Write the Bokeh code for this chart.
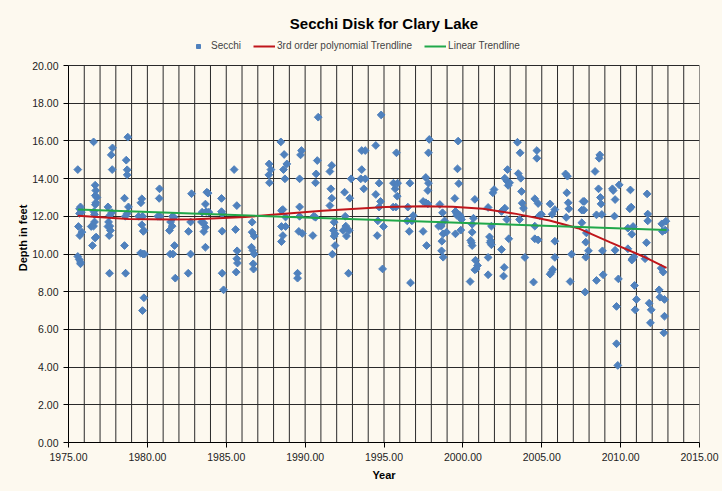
from bokeh.plotting import figure
from bokeh.models import FixedTicker, NumeralTickFormatter, Legend, LegendItem, ColumnDataSource, Range1d
from bokeh.embed import file_html
from bokeh.resources import INLINE

# ---- data ----
secchi_year = [
    1975.59, 1976.59, 1978.76, 1977.79, 1977.71, 1977.77, 1978.66, 1978.72, 1978.72, 1976.69,
    1976.73, 1976.80, 1976.70, 1976.73, 1976.70, 1975.76, 1975.70, 1975.82, 1975.70, 1976.61,
    1976.65, 1977.50, 1977.75, 1977.62, 1978.55, 1978.80, 1978.72, 1978.60, 1979.65, 1979.59,
    1979.45, 1979.70, 1979.65, 1979.78, 1979.74, 1980.77, 1980.75, 1980.67, 1980.80, 1981.60,
    1981.68, 1981.47, 1981.57, 1981.40, 1982.80, 1982.74, 1982.61, 1975.63, 1975.85, 1975.72,
    1976.44, 1976.59, 1976.65, 1976.75, 1976.69, 1976.52, 1977.54, 1977.62, 1977.66, 1977.58,
    1977.50, 1975.59, 1975.68, 1975.76, 1975.76, 1978.55, 1977.60, 1978.62, 1979.57, 1979.72,
    1979.82, 1979.78, 1979.69, 1981.45, 1981.62, 1981.72, 1981.77, 1982.74, 1982.59,
    1990.83, 1988.46, 1988.67, 1989.77, 1989.71, 1988.84, 1987.72, 1987.83, 1987.70, 1987.74,
    1988.63, 1988.72, 1989.65, 1990.77, 1990.70, 1990.66, 1985.50, 1983.77, 1983.85, 1983.68,
    1984.70, 1985.67, 1983.47, 1983.73, 1983.90, 1984.70, 1984.74, 1983.43, 1983.58, 1983.68,
    1983.58, 1983.68, 1984.74, 1985.59, 1985.69, 1985.67, 1985.71, 1985.63, 1984.74, 1984.83,
    1986.64, 1986.64, 1986.77, 1986.60, 1986.69, 1986.77, 1986.71, 1986.73, 1988.50, 1988.59,
    1988.76, 1988.50, 1988.76, 1988.59, 1988.50, 1989.65, 1989.65, 1989.60, 1989.82, 1989.52,
    1989.52, 1990.55, 1990.66, 1990.49,
    1994.82, 1997.87, 1997.82, 1994.48, 1993.59, 1993.81, 1995.79, 1991.69, 1991.57, 1993.59,
    1993.53, 1993.81, 1992.92, 1994.69, 1995.60, 1995.86, 1996.64, 1997.65, 1997.82, 1997.78,
    1991.63, 1991.69, 1991.57, 1992.50, 1992.83, 1993.72, 1994.48, 1995.71, 1995.84, 1994.78,
    1994.69, 1995.58, 1995.75, 1996.51, 1997.48, 1997.65, 1997.78, 1998.54, 1998.71, 1992.54,
    1991.84, 1991.80, 1991.90, 1991.84, 1991.90, 1991.73, 1992.41, 1992.58, 1992.79, 1992.62,
    1992.75, 1994.61, 1994.97, 1994.57, 1994.91, 1996.47, 1996.77, 1996.85, 1996.60, 1996.68,
    1997.48, 1997.70, 1998.46, 1998.63, 1998.84, 1998.96, 1998.75, 1998.67, 1998.65, 1998.75,
    1999.70, 1999.66, 1999.74, 1999.49, 1999.53, 1999.62, 1999.78, 1999.87, 1999.91, 1999.62,
    1999.53, 1999.87, 2000.76, 2000.67, 2000.59, 2000.59, 2000.50, 2000.59, 2000.55, 2000.80,
    2000.93, 2000.76, 2000.84, 2000.46, 2001.60, 2001.81, 2001.69, 2001.77, 2001.81, 2001.73,
    2001.60, 2001.60, 2001.90, 2001.98, 2002.66, 2002.79, 2002.87, 2002.96, 2002.83, 2002.45,
    2002.66, 2002.79, 2002.91, 2002.45, 2002.62, 2002.58, 2003.46, 2003.63, 2003.51, 2003.67,
    2003.72, 2003.76, 2003.84, 2003.59, 2003.93, 2004.69, 2004.69, 2004.56, 2004.77, 2004.86,
    2004.98, 2004.56, 2004.56, 2004.77, 2004.48, 2005.53, 2005.83, 2005.66, 2005.83, 2005.83,
    2005.70, 2005.62, 2005.53, 2006.51, 2006.63, 2006.59, 2006.68, 2006.72, 2006.55, 2006.89,
    2006.80,
    2008.68, 2008.64, 2008.38, 2008.60, 2008.72, 2008.76, 2007.62, 2007.70, 2007.54, 2007.67,
    2008.47, 2008.81, 2007.54, 2007.83, 2007.79, 2007.96, 2007.79, 2008.85, 2008.47, 2008.89,
    2007.75, 2009.48, 2009.53, 2009.91, 2009.65, 2009.61, 2009.65, 2009.86, 2009.74, 2009.74,
    2009.82, 2010.62, 2010.58, 2010.67, 2010.46, 2010.79, 2010.71, 2010.46, 2010.75, 2010.84,
    2010.71, 2010.88, 2011.00, 2010.92, 2011.68, 2011.72, 2011.72, 2011.64, 2011.55, 2011.81,
    2011.94, 2011.89, 2012.61, 2012.87, 2012.65, 2012.82, 2012.57, 2012.70, 2012.44, 2012.49,
    2012.78, 2012.78, 2012.74,
]
secchi_depth = [
    14.48, 15.95, 16.20, 15.63, 15.26, 14.48, 14.98, 14.47, 14.20, 13.65,
    13.37, 13.00, 13.10, 12.72, 12.62, 12.50, 12.40, 12.22, 12.15, 12.25,
    12.10, 12.50, 12.20, 12.05, 12.96, 12.50, 12.15, 12.00, 12.93, 12.72,
    12.00, 12.00, 11.55, 11.25, 11.20, 13.46, 12.95, 12.00, 12.00, 12.00,
    11.95, 11.70, 11.48, 11.25, 13.20, 11.70, 11.20, 11.46, 11.16, 10.98,
    11.46, 11.48, 11.70, 10.90, 10.85, 10.45, 11.70, 11.48, 11.25, 10.98,
    11.46, 9.87, 9.71, 9.57, 9.48, 10.45, 8.98, 8.98, 10.05, 10.00,
    10.00, 7.68, 7.00, 10.00, 10.00, 10.45, 8.72, 10.00, 8.98,
    17.26, 15.95, 15.28, 15.49, 15.26, 14.78, 14.78, 14.48, 14.20, 13.78,
    14.48, 13.99, 13.99, 14.96, 14.25, 13.78, 14.48, 13.28, 13.23, 12.65,
    12.95, 12.57, 12.22, 12.25, 12.22, 12.25, 12.13, 11.70, 11.64, 11.42,
    11.19, 10.36, 11.21, 11.30, 10.17, 9.75, 9.52, 9.04, 8.98, 8.10,
    11.69, 11.16, 10.95, 10.36, 10.19, 10.00, 9.48, 9.20, 12.30, 12.36,
    11.96, 11.46, 11.46, 10.98, 10.66, 12.50, 12.00, 11.20, 11.09, 8.98,
    8.72, 12.00, 11.95, 10.98,
    17.38, 16.08, 15.37, 15.76, 15.49, 15.49, 15.37, 14.70, 14.38, 14.48,
    13.99, 13.99, 13.99, 13.76, 13.76, 13.76, 13.76, 14.06, 13.76, 13.37,
    13.46, 12.96, 12.57, 13.28, 12.96, 13.46, 13.16, 13.46, 13.07, 12.79,
    12.49, 12.49, 12.49, 12.49, 12.79, 12.72, 12.66, 12.63, 12.19, 12.00,
    11.69, 11.25, 11.07, 10.95, 10.45, 9.99, 11.25, 11.48, 11.25, 10.95,
    8.98, 11.76, 11.46, 10.98, 9.21, 11.76, 11.76, 12.04, 11.20, 8.47,
    11.20, 10.45, 11.48, 11.48, 11.76, 11.16, 11.07, 10.68, 10.17, 9.83,
    15.99, 14.52, 13.74, 12.95, 12.26, 12.15, 12.08, 11.97, 11.83, 12.05,
    11.07, 11.27, 12.90, 11.90, 11.58, 11.16, 10.72, 10.45, 10.60, 9.67,
    9.39, 9.16, 9.21, 8.54, 12.47, 11.48, 10.91, 10.70, 10.49, 10.61,
    9.82, 8.90, 13.25, 13.42, 14.02, 13.88, 13.64, 13.78, 14.48, 12.26,
    12.43, 11.83, 10.81, 10.24, 9.29, 8.83, 15.93, 15.37, 14.27, 14.02,
    13.32, 12.70, 12.43, 11.83, 9.82, 15.49, 15.08, 12.93, 12.68, 12.04,
    12.11, 11.48, 10.81, 10.75, 8.51, 12.66, 12.36, 12.11, 10.68, 9.82,
    9.18, 9.04, 8.93, 14.25, 14.13, 13.25, 12.72, 12.40, 11.94, 9.99,
    8.54,
    15.26, 15.08, 14.38, 13.46, 13.00, 12.66, 12.79, 12.79, 12.33, 12.33,
    12.08, 12.10, 11.66, 11.12, 10.63, 10.17, 9.83, 10.17, 8.60, 8.90,
    7.98, 13.46, 13.37, 13.67, 12.89, 12.01, 10.20, 8.68, 7.22, 5.24,
    4.09, 13.40, 12.40, 12.49, 11.37, 11.46, 11.05, 10.28, 9.75, 9.85,
    9.68, 8.33, 7.59, 7.04, 13.19, 12.12, 11.76, 10.60, 9.75, 7.39,
    7.04, 6.35, 11.60, 11.74, 11.20, 11.27, 9.25, 9.04, 8.10, 7.71,
    7.59, 6.70, 5.82,
]

poly_year = [1975.59, 1978.8, 1981.5, 1983.05, 1986.2, 1987.9, 1991.1, 1995.1, 1997.44,
             1999.35, 2001.26, 2003.38, 2005.49, 2007.3, 2009.31, 2011.43, 2012.91]
poly_depth = [12.03, 11.86, 11.83, 11.85, 11.96, 12.08, 12.30, 12.49, 12.54,
              12.51, 12.40, 12.13, 11.78, 11.37, 10.63, 9.87, 9.27]

linear_year = [1975.59, 2012.91]
linear_depth = [12.36, 11.28]

x_ticks = [1975, 1980, 1985, 1990, 1995, 2000, 2005, 2010, 2015]
y_ticks = [0, 2, 4, 6, 8, 10, 12, 14, 16, 18, 20]
year_grid = list(range(1975, 2016))
Y_MAX = 20

BG = "#FDF9EF"
FONT = "Liberation Sans"
GRID = "#2a2a2a"

# frame extends a little above 20 so the legend row sits inside it
p = figure(width=722, height=491, output_backend="svg", toolbar_location=None,
           x_range=Range1d(1975, 2015), y_range=Range1d(0, 21.7),
           min_border_left=68, min_border_right=23, min_border_top=33, min_border_bottom=49,
           background_fill_color=BG, border_fill_color=BG,
           title="Secchi Disk for Clary Lake")

p.title.align = "center"
p.title.offset = -20
p.title.text_font = FONT
p.title.text_font_size = "15px"
p.title.text_font_style = "bold"
p.title.text_color = "black"
p.title.standoff = 3

# vertical grid lines (every year) only up to 20
p.xgrid.grid_line_color = None
p.segment(x0=year_grid, y0=[0] * len(year_grid), x1=year_grid, y1=[Y_MAX] * len(year_grid),
          line_color=GRID, line_width=1)
p.ygrid.ticker = FixedTicker(ticks=y_ticks)
p.ygrid.grid_line_color = GRID
p.ygrid.grid_line_width = 1
p.outline_line_color = None

p.xaxis.ticker = FixedTicker(ticks=x_ticks)
p.yaxis.ticker = FixedTicker(ticks=y_ticks)
p.yaxis.bounds = (0, Y_MAX)
p.xaxis.formatter = NumeralTickFormatter(format="0.00")
p.yaxis.formatter = NumeralTickFormatter(format="0.00")
for ax in (p.xaxis, p.yaxis):
    ax.axis_line_color = "black"
    ax.major_tick_line_color = "black"
    ax.major_tick_out = 5
    ax.major_tick_in = 0
    ax.minor_tick_out = 0
    ax.minor_tick_in = 0
    ax.major_label_standoff = 5
    ax.major_label_text_font = FONT
    ax.major_label_text_font_size = "10.5px"
    ax.major_label_text_color = "#222222"
    ax.axis_label_text_font = FONT
    ax.axis_label_text_font_size = "11px"
    ax.axis_label_text_font_style = "bold"
    ax.axis_label_text_color = "black"
p.xaxis.axis_label = "Year"
p.yaxis.axis_label = "Depth in feet"
p.xaxis.axis_label_standoff = 5
p.yaxis.axis_label_standoff = 0

src = ColumnDataSource(data=dict(x=secchi_year, y=secchi_depth))
r_pts = p.scatter("x", "y", source=src, marker="square", angle=0.785398, size=5.5,
                  fill_color="#4F81BD", line_color="#4F81BD")
r_poly = p.line(poly_year, poly_depth, line_color="#C0161B", line_width=2)
r_lin = p.line(linear_year, linear_depth, line_color="#21A84A", line_width=2)

legend = Legend(items=[
    LegendItem(label="Secchi", renderers=[r_pts]),
    LegendItem(label="3rd order polynomial Trendline", renderers=[r_poly]),
    LegendItem(label="Linear Trendline", renderers=[r_lin]),
], orientation="horizontal", location=(119, 391))
legend.label_text_font = FONT
legend.label_text_font_size = "10px"
legend.glyph_width = 22
legend.glyph_height = 10
legend.spacing = 12
legend.padding = 2
legend.margin = 0
legend.border_line_color = None
legend.background_fill_alpha = 0
legend.label_standoff = 2
p.add_layout(legend, "center")

html = file_html(p, INLINE)
html = html.replace("<body>", '<body style="background-color:%s;">' % BG)
open("out.html", "w").write(html)
